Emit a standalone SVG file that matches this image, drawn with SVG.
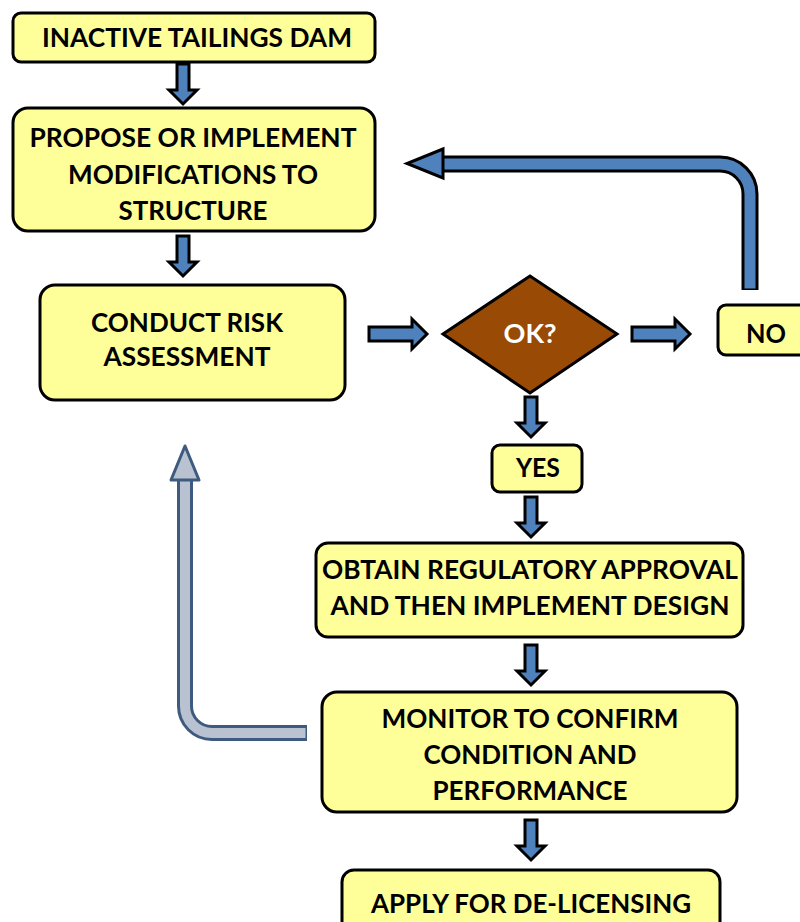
<svg xmlns="http://www.w3.org/2000/svg" width="800" height="922" viewBox="0 0 800 922">
<style>
.box{fill:#FFFF99;stroke:#000;stroke-width:3}
.t{font-family:Lato,"Open Sans",sans-serif;font-weight:bold;font-size:26px;fill:#000;text-anchor:middle}
.w{fill:#fff}
.arr{fill:#4F81BD;stroke:#000;stroke-width:3;stroke-linejoin:miter}
</style>
<defs>
<path id="down" d="M-6,0 H6 V26 H14 L0,40 L-14,26 H-6 Z"/>
<path id="right" d="M0,-7 H43 V-15 L58,0 L43,15 V7 H0 Z"/>
</defs>
<rect width="800" height="922" fill="#fff"/>
<g id="connectors">
<use href="#down" class="arr" transform="translate(183,64)"/>
<use href="#down" class="arr" transform="translate(183,236)"/>
<use href="#down" class="arr" transform="translate(531,397)"/>
<use href="#down" class="arr" transform="translate(531,497)"/>
<use href="#down" class="arr" transform="translate(531,645)"/>
<use href="#down" class="arr" transform="translate(531,820)"/>
<use href="#right" class="arr" transform="translate(369,334)"/>
<use href="#right" class="arr" transform="translate(632,334)"/>
<g id="loop-no">
<path d="M750,290 V194 A30,30 0 0 0 720,164 H440" fill="none" stroke="#000" stroke-width="17"/>
<path d="M750,288.5 V194 A30,30 0 0 0 720,164 H441" fill="none" stroke="#4F81BD" stroke-width="11"/>
<path d="M443,149 L407,163.5 L443,178 Z" class="arr"/>
</g>
<g id="loop-monitor">
<path d="M307,733 H212 A27,27 0 0 1 185,706 V478" fill="none" stroke="#3E5A7E" stroke-width="16"/>
<path d="M305.5,733 H212 A27,27 0 0 1 185,706 V478" fill="none" stroke="#B8C2D1" stroke-width="10"/>
<path d="M171,480 L185,446 L199,480 Z" fill="#B8C2D1" stroke="#3E5A7E" stroke-width="3" stroke-linejoin="round"/>
</g>
</g>
<g id="n-inactive">
<rect class="box" x="13" y="13" width="362" height="49" rx="8"/>
<text class="t" x="197" y="47" textLength="310" lengthAdjust="spacingAndGlyphs">INACTIVE TAILINGS DAM</text>
</g>
<g id="n-propose">
<rect class="box" x="13" y="108" width="362" height="123" rx="15"/>
<text class="t" x="193" y="147" textLength="327" lengthAdjust="spacingAndGlyphs">PROPOSE OR IMPLEMENT</text>
<text class="t" x="193" y="184" textLength="250" lengthAdjust="spacingAndGlyphs">MODIFICATIONS TO</text>
<text class="t" x="193" y="220" textLength="149" lengthAdjust="spacingAndGlyphs">STRUCTURE</text>
</g>
<g id="n-risk">
<rect class="box" x="40" y="285" width="305" height="115" rx="15"/>
<text class="t" x="187" y="332" textLength="192" lengthAdjust="spacingAndGlyphs">CONDUCT RISK</text>
<text class="t" x="187" y="366" textLength="167" lengthAdjust="spacingAndGlyphs">ASSESSMENT</text>
</g>
<g id="n-ok">
<polygon points="443,334 530,276 617,334 530,393" fill="#994A05" stroke="#000" stroke-width="3" stroke-linejoin="miter"/>
<text class="t w" x="530" y="343" textLength="53" lengthAdjust="spacingAndGlyphs">OK?</text>
</g>
<g id="n-no">
<rect class="box" x="718" y="305" width="100" height="50" rx="8"/>
<text class="t" x="766" y="343" textLength="40" lengthAdjust="spacingAndGlyphs">NO</text>
</g>
<g id="n-yes">
<rect class="box" x="492" y="445" width="90" height="47" rx="8"/>
<text class="t" x="538" y="477" textLength="44" lengthAdjust="spacingAndGlyphs">YES</text>
</g>
<g id="n-obtain">
<rect class="box" x="316" y="543" width="427" height="94" rx="12"/>
<text class="t" x="530" y="579" textLength="416" lengthAdjust="spacingAndGlyphs">OBTAIN REGULATORY APPROVAL</text>
<text class="t" x="530" y="615" textLength="399" lengthAdjust="spacingAndGlyphs">AND THEN IMPLEMENT DESIGN</text>
</g>
<g id="n-monitor">
<rect class="box" x="322" y="692" width="415" height="120" rx="15"/>
<text class="t" x="530" y="728" textLength="297" lengthAdjust="spacingAndGlyphs">MONITOR TO CONFIRM</text>
<text class="t" x="530" y="764" textLength="213" lengthAdjust="spacingAndGlyphs">CONDITION AND</text>
<text class="t" x="530" y="800" textLength="195" lengthAdjust="spacingAndGlyphs">PERFORMANCE</text>
</g>
<g id="n-apply">
<rect class="box" x="342" y="870" width="378" height="70" rx="12"/>
<text class="t" x="531" y="913" textLength="320" lengthAdjust="spacingAndGlyphs">APPLY FOR DE-LICENSING</text>
</g>
</svg>
